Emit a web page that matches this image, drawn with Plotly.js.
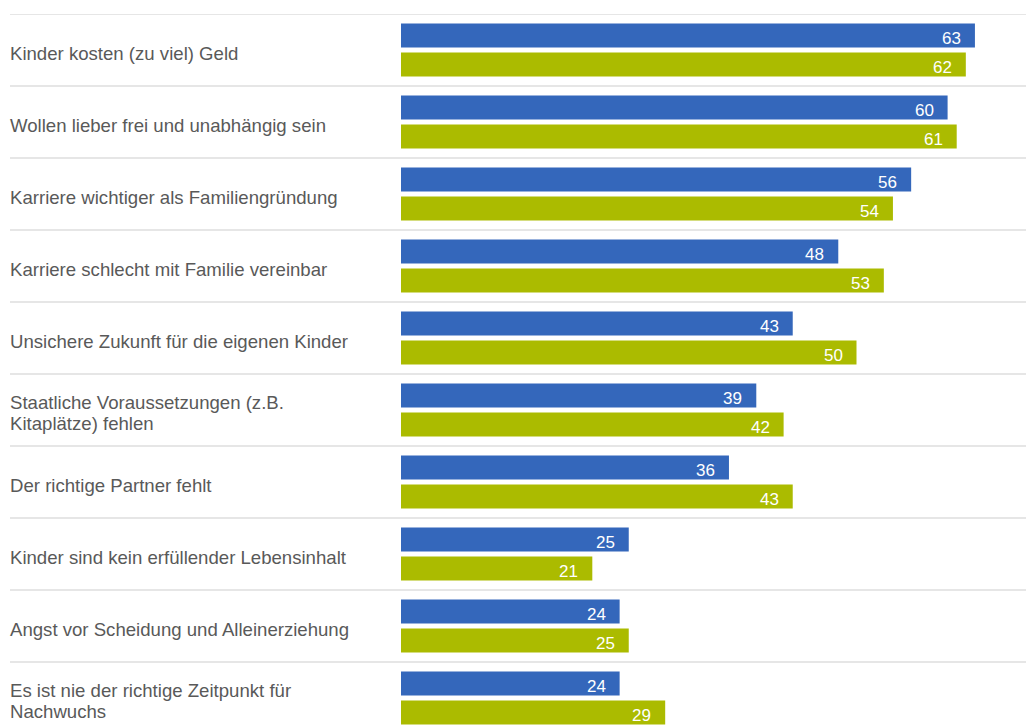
<!DOCTYPE html>
<html>
<head>
<meta charset="utf-8">
<script src="https://cdn.plot.ly/plotly-3.0.1.min.js"></script>
<style>
html, body { margin: 0; padding: 0; background: #ffffff; overflow: hidden; }
#chart { width: 1026px; height: 727px; }
</style>
</head>
<body>
<div id="chart"></div>
<script>
const categories = [
  "Kinder kosten (zu viel) Geld",
  "Wollen lieber frei und unabhängig sein",
  "Karriere wichtiger als Familiengründung",
  "Karriere schlecht mit Familie vereinbar",
  "Unsichere Zukunft für die eigenen Kinder",
  "Staatliche Voraussetzungen (z.B.<br>Kitaplätze) fehlen",
  "Der richtige Partner fehlt",
  "Kinder sind kein erfüllender Lebensinhalt",
  "Angst vor Scheidung und Alleinerziehung",
  "Es ist nie der richtige Zeitpunkt für<br>Nachwuchs"
];
const seriesBlue = [63, 60, 56, 48, 43, 39, 36, 25, 24, 24];
const seriesGreen = [62, 61, 54, 53, 50, 42, 43, 21, 25, 29];

const BLUE = "#3467BB";
const GREEN = "#ABBB00";
const TEXT = "#595959";
const FONT = "Liberation Sans, Arial, sans-serif";

const W = 1026, H = 727;
const ML = 401, MR = 0, MT = 14, MB = 0;
const rowPx = 72;
const plotH = H - MT - MB;
const plotW = W - ML - MR;
const pxPerUnit = 9.11;
const lineGap = 21.5;

const traces = [
  { type: "bar", orientation: "h", name: "Serie 1", y: categories, x: seriesBlue,
    marker: { color: BLUE }, hoverinfo: "x+y" },
  { type: "bar", orientation: "h", name: "Serie 2", y: categories, x: seriesGreen,
    marker: { color: GREEN }, hoverinfo: "x+y" }
];

const annotations = [];
const shapes = [];
const labelX = (10 - ML) / plotW;

categories.forEach((c, i) => {
  const lines = c.split("<br>");
  const n = lines.length;
  lines.forEach((ln, k) => {
    annotations.push({
      xref: "paper", yref: "y", x: labelX, y: c, xanchor: "left", yanchor: "middle",
      xshift: -2, yshift: -3 + (n - 1) / 2 * lineGap - k * lineGap,
      text: ln, showarrow: false, align: "left",
      font: { family: FONT, size: 18.6, color: TEXT }
    });
  });
  annotations.push({
    xref: "x", yref: "y", x: seriesBlue[i], y: c, xanchor: "right", yanchor: "middle",
    xshift: -12, yshift: 11.5, text: String(seriesBlue[i]), showarrow: false,
    font: { family: FONT, size: 17, color: "#ffffff" }
  });
  annotations.push({
    xref: "x", yref: "y", x: seriesGreen[i], y: c, xanchor: "right", yanchor: "middle",
    xshift: -12, yshift: -17.5, text: String(seriesGreen[i]), showarrow: false,
    font: { family: FONT, size: 17, color: "#ffffff" }
  });
  shapes.push({
    type: "line", xref: "paper", yref: "y", x0: labelX, x1: 1, y0: i - 0.5, y1: i - 0.5,
    line: { color: "#dedede", width: 1.5 }, layer: "below"
  });
});

const layout = {
  width: W, height: H,
  margin: { l: ML, r: MR, t: MT, b: MB, pad: 0 },
  paper_bgcolor: "#ffffff", plot_bgcolor: "#ffffff",
  barmode: "group",
  bargap: 14 / 72,
  bargroupgap: 5 / 29,
  showlegend: false,
  xaxis: { range: [0, plotW / pxPerUnit], showgrid: false, zeroline: false,
           showticklabels: false, ticks: "", fixedrange: true },
  yaxis: { type: "category", range: [-0.5 + plotH / rowPx, -0.5], showgrid: false,
           zeroline: false, showticklabels: false, ticks: "", fixedrange: true },
  annotations: annotations,
  shapes: shapes,
  font: { family: FONT }
};

Plotly.newPlot("chart", traces, layout, { displayModeBar: false, staticPlot: true });
</script>
</body>
</html>
